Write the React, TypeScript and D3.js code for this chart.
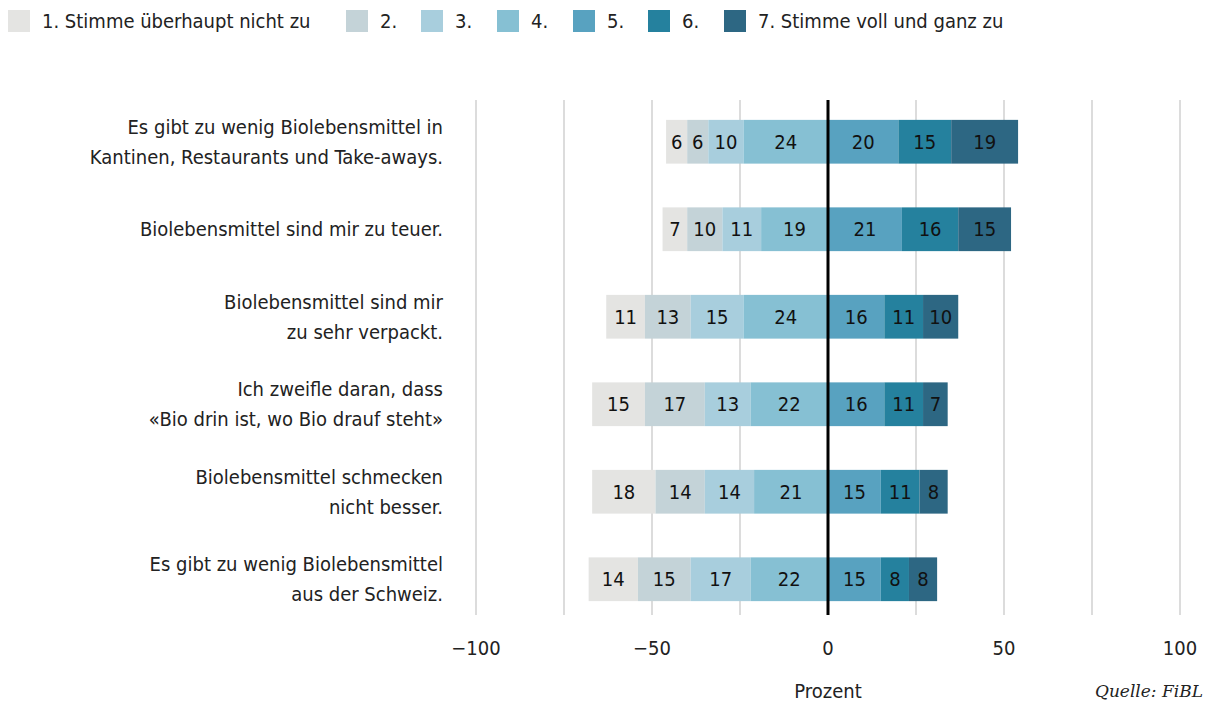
import React from 'react';
import * as d3 from 'd3';

const statements = [
  ['Es gibt zu wenig Biolebensmittel in', 'Kantinen, Restaurants und Take-aways.'],
  ['Biolebensmittel sind mir zu teuer.'],
  ['Biolebensmittel sind mir', 'zu sehr verpackt.'],
  ['Ich zweifle daran, dass', '«Bio drin ist, wo Bio drauf steht»'],
  ['Biolebensmittel schmecken', 'nicht besser.'],
  ['Es gibt zu wenig Biolebensmittel', 'aus der Schweiz.'],
];

const levels = ['1. Stimme überhaupt nicht zu', '2.', '3.', '4.', '5.', '6.', '7. Stimme voll und ganz zu'];
const colors = ['#e4e4e2', '#c4d3d8', '#a8cedd', '#86c0d3', '#58a2c0', '#25819e', '#2d6783'];

// Anteile je Stufe 1..7 (1-4 links, 5-7 rechts)
const values = [
  [6, 6, 10, 24, 20, 15, 19],
  [7, 10, 11, 19, 21, 16, 15],
  [11, 13, 15, 24, 16, 11, 10],
  [15, 17, 13, 22, 16, 11, 7],
  [18, 14, 14, 21, 15, 11, 8],
  [14, 15, 17, 22, 15, 8, 8],
];

const ticks = [-100, -50, 0, 50, 100];
const grid = [-100, -75, -50, -25, 25, 50, 75, 100];

const W = 1207, H = 702;
const FONT = '"Liberation Sans Narrow", "DejaVu Sans Condensed", "Roboto", sans-serif';

export default function App() {
  const x = d3.scaleLinear().domain([-100, 100]).range([476, 1180]);
  const y = d3.scaleBand().domain(d3.range(statements.length).map(String)).range([98, 623]).paddingInner(0.5).paddingOuter(0.25);
  const top = 100, bottom = 615;

  const legendX = [8, 346, 421, 497, 573, 648, 724];

  return (
    <svg width={W} height={H} style={{ position: 'absolute', left: 0, top: 0, fontFamily: FONT }}>
      {/* legend */}
      {levels.map((l, i) => (
        <g key={l} transform={`translate(${legendX[i]},10)`}>
          <rect width={22} height={22} fill={colors[i]} />
          <text x={34} y={18} fontSize={20} fill="#222">{l}</text>
        </g>
      ))}

      {/* grid */}
      {grid.map(g => (
        <line key={g} x1={x(g)} x2={x(g)} y1={top} y2={bottom} stroke="#dcdcdc" strokeWidth={2} />
      ))}

      {/* bars */}
      {values.map((row, r) => {
        const yy = y(String(r))!;
        const bh = y.bandwidth();
        const leftTotal = d3.sum(row.slice(0, 4));
        let cum = -leftTotal;
        return (
          <g key={r}>
            {row.map((v, i) => {
              const x0 = x(cum);
              const x1 = x(cum + v);
              cum += v;
              return (
                <g key={i}>
                  <rect x={x0} y={yy} width={x1 - x0} height={bh} fill={colors[i]} />
                  <text x={(x0 + x1) / 2} y={yy + bh / 2 + 7} fontSize={20} textAnchor="middle" fill="#111">{v}</text>
                </g>
              );
            })}
            <text x={443} y={yy + bh / 2 + 7 - (statements[r].length - 1) * 15} fontSize={20} textAnchor="end" fill="#222">
              {statements[r].map((s, k) => (
                <tspan key={k} x={443} dy={k === 0 ? 0 : 30}>{s}</tspan>
              ))}
            </text>
          </g>
        );
      })}

      {/* zero line */}
      <line x1={x(0)} x2={x(0)} y1={top} y2={bottom} stroke="#000" strokeWidth={3} />

      {/* axis */}
      {ticks.map(t => (
        <text key={t} x={x(t)} y={655} fontSize={20} textAnchor="middle" fill="#222">{t < 0 ? `\u2212${-t}` : t}</text>
      ))}
      <text x={x(0)} y={698} fontSize={20} textAnchor="middle" fill="#222">Prozent</text>
      <text x={1203} y={697} fontSize={17} textAnchor="end" fontStyle="italic" fontFamily='"DejaVu Serif", "Liberation Serif", serif' fill="#222">Quelle: FiBL</text>
    </svg>
  );
}
